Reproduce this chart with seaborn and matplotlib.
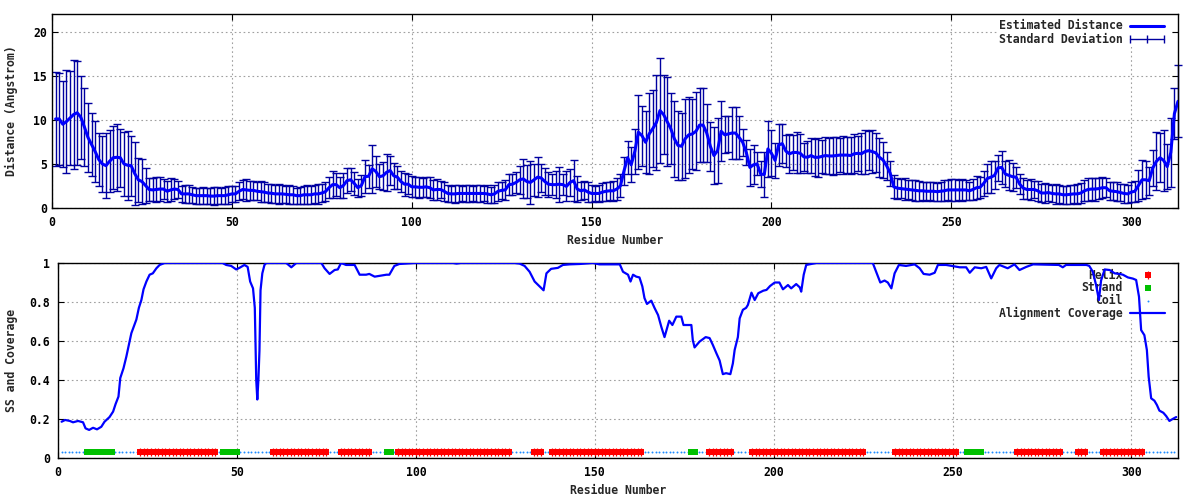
import matplotlib
matplotlib.use("Agg")
import matplotlib.pyplot as plt
import seaborn as sns
from matplotlib.patches import Rectangle

# ---------------- data ----------------
residues = list(range(1, 314))
distance = [
    10.1, 10.1, 9.5, 9.8, 10.2, 10.6, 10.8, 10.3, 9.2, 8.0,
    7.2, 6.4, 5.5, 5.0, 4.8, 5.3, 5.7, 5.75, 5.7, 5.0,
    4.85, 4.8, 3.9, 3.2, 3.0, 2.55, 2.1, 2.05, 2.1, 2.15,
    2.15, 1.9, 2.05, 2.15, 2.1, 1.6, 1.6, 1.6, 1.5, 1.4,
    1.4, 1.4, 1.4, 1.35, 1.35, 1.4, 1.4, 1.4, 1.5, 1.6,
    1.6, 1.9, 2.1, 2.05, 2.0, 2.0, 1.9, 1.85, 1.8, 1.7,
    1.67, 1.6, 1.6, 1.6, 1.55, 1.5, 1.5, 1.4, 1.4, 1.5,
    1.5, 1.5, 1.6, 1.6, 1.7, 1.85, 2.3, 2.65, 2.65, 2.3,
    2.55, 3.1, 3.2, 2.8, 2.3, 2.55, 3.55, 3.6, 4.45, 4.15,
    3.55, 3.65, 4.05, 4.25, 3.65, 3.5, 3.0, 2.7, 2.7, 2.4,
    2.4, 2.35, 2.35, 2.4, 2.3, 2.05, 2.1, 2.1, 1.9, 1.65,
    1.6, 1.6, 1.65, 1.65, 1.65, 1.65, 1.65, 1.65, 1.65, 1.65,
    1.6, 1.5, 1.6, 1.9, 2.0, 2.05, 2.65, 2.7, 2.9, 3.2,
    3.3, 3.0, 2.9, 3.2, 3.5, 3.4, 3.0, 2.7, 2.65, 2.65,
    2.7, 2.65, 2.45, 2.9, 3.1, 2.15, 1.95, 2.05, 1.8, 1.65,
    1.65, 1.65, 1.8, 1.9, 1.95, 1.95, 2.15, 2.5, 4.2, 5.7,
    4.9, 6.4, 8.6, 8.2, 7.45, 8.4, 9.0, 9.7, 11.05, 10.6,
    9.8, 9.0, 7.85, 7.1, 7.0, 7.85, 8.3, 8.4, 8.7, 9.4,
    9.4, 8.5, 7.0, 5.95, 6.5, 8.7, 8.3, 8.4, 8.5, 8.5,
    8.0, 7.45, 6.3, 4.6, 4.9, 5.0, 3.85, 3.8, 6.7, 6.2,
    5.4, 7.15, 7.3, 6.45, 6.15, 6.3, 6.3, 6.2, 5.8, 5.75,
    5.95, 5.75, 5.75, 5.85, 5.95, 5.9, 5.9, 5.95, 6.0, 6.0,
    6.0, 5.95, 6.15, 6.2, 6.15, 6.4, 6.5, 6.4, 6.25, 5.75,
    5.45, 4.8, 3.95, 2.4, 2.25, 2.2, 2.15, 2.1, 2.05, 2.0,
    1.95, 1.95, 1.9, 1.9, 1.9, 1.85, 1.9, 1.95, 2.05, 2.05,
    2.05, 2.05, 2.05, 2.05, 1.95, 2.1, 2.3, 2.35, 2.8, 3.35,
    3.5, 3.7, 4.55, 4.6, 3.85, 3.7, 3.55, 3.5, 2.7, 2.25,
    2.1, 2.1, 2.1, 1.95, 1.7, 1.7, 1.75, 1.65, 1.6, 1.6,
    1.5, 1.5, 1.55, 1.6, 1.6, 1.7, 1.95, 2.1, 2.15, 2.15,
    2.2, 2.3, 2.3, 1.95, 1.9, 1.85, 1.75, 1.65, 1.6, 1.8,
    1.9, 2.55, 3.2, 3.2, 3.1, 4.55, 5.3, 5.7, 5.4, 4.7,
    6.3, 10.7, 12.1,
]
std_dev = [
    5.3, 5.2, 4.9, 5.8, 5.3, 6.2, 5.9, 4.7, 4.4, 3.9,
    3.6, 3.5, 3.0, 3.2, 3.7, 3.5, 3.6, 3.8, 3.3, 3.6,
    3.9, 3.4, 3.6, 2.5, 2.6, 2.0, 1.3, 1.3, 1.4, 1.4,
    1.1, 1.2, 1.3, 1.1, 1.0, 0.9, 1.0, 1.0, 0.9, 0.9,
    0.9, 1.0, 0.9, 0.9, 1.0, 1.0, 0.9, 1.0, 1.0, 0.9,
    0.9, 1.0, 1.1, 1.2, 1.1, 1.1, 1.0, 1.2, 1.1, 1.0,
    1.1, 1.0, 1.1, 1.0, 1.0, 1.1, 1.0, 0.9, 1.0, 1.0,
    1.1, 1.0, 1.0, 1.1, 1.0, 1.1, 1.2, 1.5, 1.3, 1.2,
    1.4, 1.4, 1.3, 1.3, 1.0, 1.2, 1.9, 1.3, 2.7, 1.8,
    1.4, 1.6, 2.1, 1.6, 1.5, 1.3, 1.2, 1.3, 1.1, 1.2,
    1.1, 1.2, 1.1, 1.1, 1.2, 1.1, 1.2, 1.0, 1.1, 1.0,
    0.9, 1.0, 1.0, 0.9, 1.0, 1.0, 0.9, 1.0, 1.0, 0.9,
    1.0, 0.9, 1.0, 1.1, 1.0, 1.1, 1.2, 1.2, 1.2, 1.6,
    2.2, 1.9, 2.4, 1.8, 2.3, 1.6, 1.5, 1.4, 1.2, 1.5,
    2.0, 1.2, 1.7, 1.5, 2.3, 1.5, 1.0, 1.0, 1.1, 1.0,
    0.9, 1.0, 1.0, 1.1, 1.0, 1.1, 1.2, 1.3, 1.6, 1.9,
    2.0, 2.6, 4.2, 3.4, 3.5, 4.6, 4.4, 5.4, 6.0, 4.5,
    5.0, 4.0, 4.3, 3.9, 3.8, 4.5, 4.3, 4.0, 4.4, 4.2,
    4.2, 3.3, 2.8, 3.2, 3.7, 3.4, 2.1, 2.0, 3.0, 2.9,
    2.4, 1.5, 1.4, 2.1, 2.2, 1.3, 1.5, 2.6, 3.2, 2.6,
    2.0, 2.4, 2.2, 1.8, 2.2, 2.0, 2.3, 2.2, 1.6, 1.8,
    2.0, 2.1, 2.2, 1.9, 2.1, 2.0, 2.2, 2.1, 1.9, 2.2,
    2.0, 2.1, 2.2, 2.0, 2.3, 2.5, 2.2, 2.4, 2.2, 2.2,
    2.0, 1.6, 1.4, 1.3, 1.2, 1.1, 1.2, 1.1, 1.1, 1.2,
    1.1, 1.0, 1.1, 1.0, 1.1, 1.0, 1.1, 1.2, 1.1, 1.2,
    1.2, 1.1, 1.2, 1.1, 1.0, 1.2, 1.3, 1.2, 1.4, 1.6,
    1.8, 1.6, 1.5, 1.9, 1.5, 1.7, 1.6, 1.2, 1.1, 1.2,
    1.1, 1.2, 1.0, 1.1, 1.0, 1.1, 1.0, 1.0, 1.1, 1.0,
    1.0, 1.0, 1.1, 1.0, 1.1, 1.1, 1.2, 1.3, 1.2, 1.3,
    1.2, 1.2, 1.1, 1.0, 1.0, 1.1, 1.0, 1.1, 1.0, 1.1,
    1.2, 1.8, 2.2, 2.1, 1.6, 2.0, 3.3, 2.8, 3.5, 2.6,
    3.9, 2.9, 4.1,
]

cov_res = [
    1, 2, 3.3, 4.2, 5.6, 7, 7.7, 8.7, 9.8, 10.9, 12.1, 13, 14.4, 15.4, 16.1,
    16.9, 17.4, 18.3, 19.1, 19.8, 20.5, 21.1, 21.9, 22.6, 23.3, 23.9, 24.7,
    25.6, 26.5, 27.5, 28.4, 29.8, 46, 47, 48.4, 49.8, 50.7, 52.1, 53, 53.7,
    54.5, 55, 55.2, 55.4, 55.7, 56, 56.3, 56.6, 57.1, 57.7, 58.2, 63.8, 65.2,
    66.6, 73.6, 74.5, 75.9, 77.3, 78.2, 79.1, 80.5, 82.9, 84.3, 86.1, 87,
    88.5, 91.8, 92.6, 94, 95.4, 99.7, 110.4, 111.4, 112.5, 127.6, 129, 130.4,
    131.8, 133.2, 134.6, 135.7, 136.5, 137.8, 139.7, 141.1, 143, 145.8, 149.5,
    151.3, 157, 157.9, 159.3, 160, 160.7, 161.6, 162.5, 163.3, 163.9, 164.6,
    165.8, 166.7, 167.7, 168.6, 169.5, 170.8, 171.7, 172.8, 174.2, 174.8, 177,
    177.4, 177.9, 179.3, 181, 182.1, 183, 184, 184.9, 185.8, 186.7, 187.9,
    188.6, 189.1, 190, 190.5, 191.4, 192.3, 192.8, 193.8, 194.7, 195.7, 197.1,
    198, 199, 200.3, 201.6, 202.6, 204, 204.9, 206.3, 207.3, 207.7, 208.4,
    209.1, 210.5, 211.9, 227.7, 228.8, 229.8, 231, 231.9, 232.9, 233.8, 235,
    237, 239.4, 240.8, 241.9, 243.6, 245, 245.9, 248.2, 252, 253.8, 254.8,
    256.2, 258, 259.4, 260.8, 262.2, 263.1, 265.4, 267.3, 268.7, 270.6, 272.5,
    279.7, 280.8, 281.7, 287.4, 288.2, 289.2, 290.1, 290.9, 291.5, 292.5,
    293.9, 295.3, 296.6, 297.6, 299, 300.4, 301.3, 302.1, 302.7, 303.6, 304.3,
    304.8, 305.5, 306.4, 307.1, 307.8, 308.9, 309.7, 310.6, 311.5, 312.5,
]
cov_val = [
    0.186, 0.195, 0.19, 0.183, 0.19, 0.183, 0.152, 0.144, 0.155, 0.147, 0.16,
    0.186, 0.21, 0.238, 0.277, 0.315, 0.41, 0.46, 0.52, 0.58, 0.64, 0.67, 0.71,
    0.77, 0.81, 0.865, 0.905, 0.94, 0.947, 0.973, 0.99, 1.0, 1.0, 0.99, 0.985,
    0.967, 0.975, 0.99, 0.98, 0.905, 0.87, 0.77, 0.59, 0.4, 0.3, 0.4, 0.55,
    0.86, 0.947, 0.99, 1.0, 1.0, 0.978, 1.0, 1.0, 0.973, 0.944, 0.964, 0.967,
    1.0, 0.99, 0.99, 0.94, 0.94, 0.944, 0.93, 0.94, 0.94, 0.985, 0.995, 1.0,
    1.0, 0.997, 1.0, 1.0, 0.997, 0.985, 0.955, 0.905, 0.88, 0.86, 0.947, 0.97,
    0.975, 0.99, 0.993, 0.995, 1.0, 0.993, 0.993, 0.955, 0.94, 0.905, 0.94,
    0.93, 0.926, 0.88, 0.82, 0.79, 0.807, 0.77, 0.733, 0.673, 0.62, 0.704,
    0.682, 0.725, 0.725, 0.682, 0.682, 0.605, 0.567, 0.597, 0.62, 0.615, 0.58,
    0.537, 0.5, 0.43, 0.435, 0.43, 0.485, 0.554, 0.62, 0.716, 0.76, 0.77,
    0.785, 0.848, 0.81, 0.845, 0.858, 0.862, 0.882, 0.9, 0.9, 0.865, 0.887,
    0.87, 0.892, 0.875, 0.853, 0.94, 0.99, 0.995, 1.0, 1.0, 0.947, 0.9, 0.91,
    0.9, 0.87, 0.947, 0.99, 0.985, 0.993, 0.973, 0.944, 0.94, 0.95, 0.99,
    0.99, 0.978, 0.978, 0.95, 0.978, 0.973, 0.98, 0.921, 0.973, 0.99, 0.973,
    0.993, 0.964, 0.98, 0.993, 0.99, 0.978, 0.99, 0.99, 0.985, 0.955, 0.887,
    0.81, 0.91, 0.967, 0.964, 0.947, 0.944, 0.94, 0.926, 0.92, 0.913, 0.827,
    0.656, 0.63, 0.554, 0.417, 0.306, 0.294, 0.272, 0.243, 0.232, 0.215, 0.19,
    0.2, 0.21,
]

ss_residues = list(range(1, 313))
helix_ranges = [(23, 44), (60, 75), (79, 87), (95, 126), (133, 135), (138, 163),
                (182, 188), (194, 225), (234, 251), (268, 280), (285, 287), (292, 303)]
strand_ranges = [(8, 15), (46, 50), (92, 93), (177, 178), (254, 258)]
ss_level = 0.03

x_ticks = [0, 50, 100, 150, 200, 250, 300]
top_yticks = [0, 5, 10, 15, 20]
bot_yticks = [0, 0.2, 0.4, 0.6, 0.8, 1.0]
bot_yticklabels = ["0", "0.2", "0.4", "0.6", "0.8", "1"]

assert len(distance) == len(residues) == len(std_dev)
assert len(cov_res) == len(cov_val)

# ---------------- style ----------------
sns.set_theme(style="white")
plt.rcParams["font.family"] = ["DejaVu Sans Mono"]
plt.rcParams["font.weight"] = "bold"
plt.rcParams["font.size"] = 8.3
plt.rcParams["axes.labelweight"] = "bold"

LINE_BLUE = "#0000ff"
BAR_BLUE = "#0000a0"
RED = "#ff0000"
GREEN = "#00c000"
COIL = "#1e8cff"
GRID = "#a0a0a0"

fig = plt.figure(figsize=(12, 5), dpi=100)
fig.patch.set_facecolor("white")
ax1 = fig.add_axes([52 / 1200, 1 - 208 / 500, 1126 / 1200, 194 / 500])
ax2 = fig.add_axes([58 / 1200, 1 - 458 / 500, 1120 / 1200, 195 / 500])


def style_axes(ax, ylabel_x, ypad):
    ax.set_facecolor("white")
    ax.set_axisbelow(True)
    ax.grid(True, color=GRID, linestyle=(0, (1.5, 2.5)), linewidth=0.8)
    for sp in ax.spines.values():
        sp.set_color("black")
        sp.set_linewidth(1.0)
        sp.set_visible(True)
    ax.tick_params(axis="both", direction="in", length=4, width=0.8,
                   top=True, right=True, bottom=True, left=True,
                   colors="black", labelsize=8.3)
    ax.tick_params(axis="x", pad=6)
    ax.tick_params(axis="y", pad=ypad)
    ax.set_xlabel("Residue Number", fontsize=8.3, fontweight="bold")
    ax.xaxis.label.set_va("center")
    ax.yaxis.label.set_va("center")
    ax.yaxis.set_label_coords(ylabel_x, 0.5)
    for t in ax.get_xticklabels() + ax.get_yticklabels():
        t.set_fontweight("bold")


# ---------------- top panel ----------------
cont = ax1.errorbar(residues, distance, yerr=std_dev, fmt="none", ecolor=BAR_BLUE,
                    elinewidth=1.0, capsize=2.6, capthick=1.0, zorder=2)
for art in list(cont.lines[1]) + list(cont.lines[2]):
    art.set_clip_on(False)
sns.lineplot(x=residues, y=distance, ax=ax1, color=LINE_BLUE, linewidth=2.2,
             estimator=None, sort=False, legend=False, zorder=3)
ax1.set_xlim(0, 313)
ax1.set_ylim(0, 22)
ax1.set_xticks(x_ticks)
ax1.set_yticks(top_yticks)
ax1.set_ylabel("Distance (Angstrom)", fontsize=8.3, fontweight="bold")
style_axes(ax1, (11 - 52) / 1126, 3.6)
ax1.xaxis.set_label_coords(0.5, (208 - 240.7) / 194)

# legend (gnuplot-like, right-justified text)
ax1.add_patch(Rectangle((0.84, 0.83), 0.155, 0.17, transform=ax1.transAxes,
                        facecolor="white", edgecolor="none", zorder=1))
ax1.text(0.9506, 0.9397, "Estimated Distance", transform=ax1.transAxes,
         ha="right", va="center", fontsize=8.3, fontweight="bold", zorder=2.5)
ax1.text(0.9506, 0.871, "Standard Deviation", transform=ax1.transAxes,
         ha="right", va="center", fontsize=8.3, fontweight="bold", zorder=2.5)
ax1.plot([0.957, 0.988], [0.9397, 0.9397], transform=ax1.transAxes,
         color=LINE_BLUE, lw=2.2, zorder=3)
ax1.plot([0.957, 0.988], [0.871, 0.871], transform=ax1.transAxes,
         color=BAR_BLUE, lw=1.0, zorder=3)
ax1.plot([0.957, 0.9725, 0.988], [0.871] * 3, transform=ax1.transAxes,
         ls="none", marker="|", ms=6, mew=1.0, color=BAR_BLUE, zorder=3)

# ---------------- bottom panel ----------------
helix_res = [r for a, b in helix_ranges for r in range(a, b + 1)]
strand_res = [r for a, b in strand_ranges for r in range(a, b + 1)]
coil_res = [r for r in ss_residues if r not in helix_res and r not in strand_res]

ax2.plot(coil_res, [ss_level] * len(coil_res), ls="none", marker="o", ms=1.4,
         mew=0, color=COIL, zorder=2)
ax2.plot(helix_res, [ss_level] * len(helix_res), ls="none", marker="s", ms=3.8,
         mew=0, color=RED, zorder=2.2)
ax2.plot(helix_res, [ss_level] * len(helix_res), ls="none", marker="|", ms=5.6,
         mew=0.9, color=RED, zorder=2.2)
ax2.plot(strand_res, [ss_level] * len(strand_res), ls="none", marker="s", ms=4.8,
         mew=0, color=GREEN, zorder=2.3)
sns.lineplot(x=cov_res, y=cov_val, ax=ax2, color=LINE_BLUE, linewidth=1.6,
             estimator=None, sort=False, legend=False, zorder=3)
ax2.set_xlim(0, 313)
ax2.set_ylim(0, 1)
ax2.set_xticks(x_ticks)
ax2.set_yticks(bot_yticks)
ax2.set_yticklabels(bot_yticklabels)
ax2.set_ylabel("SS and Coverage", fontsize=8.3, fontweight="bold")
style_axes(ax2, (11 - 58) / 1120, 5.8)
ax2.xaxis.set_label_coords(0.5, (458 - 490.7) / 195)

ax2.add_patch(Rectangle((0.84, 0.71), 0.155, 0.29, transform=ax2.transAxes,
                        facecolor="white", edgecolor="none", zorder=1))
leg_y = [0.938, 0.873, 0.807, 0.742]
for y, lab in zip(leg_y, ["Helix", "Strand", "Coil", "Alignment Coverage"]):
    ax2.text(0.9506, y, lab, transform=ax2.transAxes, ha="right", va="center",
             fontsize=8.3, fontweight="bold", zorder=2.5)
ax2.plot([0.973], [leg_y[0]], transform=ax2.transAxes, ls="none", marker="s",
         ms=3.8, mew=0, color=RED, zorder=3)
ax2.plot([0.973], [leg_y[0]], transform=ax2.transAxes, ls="none", marker="|",
         ms=5.6, mew=0.9, color=RED, zorder=3)
ax2.plot([0.973], [leg_y[1]], transform=ax2.transAxes, ls="none", marker="s",
         ms=4.8, mew=0, color=GREEN, zorder=3)
ax2.plot([0.973], [leg_y[2]], transform=ax2.transAxes, ls="none", marker="o",
         ms=1.4, mew=0, color=COIL, zorder=3)
ax2.plot([0.957, 0.988], [leg_y[3], leg_y[3]], transform=ax2.transAxes,
         color=LINE_BLUE, lw=1.6, zorder=3)

fig.savefig("out.png", dpi=100, facecolor="white")
